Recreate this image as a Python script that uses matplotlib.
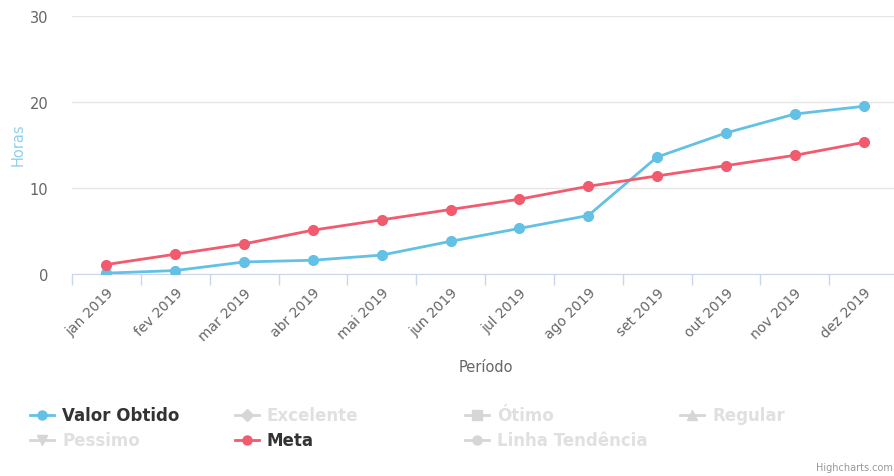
import matplotlib.pyplot as plt
from matplotlib.lines import Line2D

# dados
meses = ['jan 2019', 'fev 2019', 'mar 2019', 'abr 2019', 'mai 2019', 'jun 2019',
         'jul 2019', 'ago 2019', 'set 2019', 'out 2019', 'nov 2019', 'dez 2019']
valor_obtido = [0.1, 0.4, 1.4, 1.6, 2.2, 3.8, 5.3, 6.8, 13.6, 16.4, 18.6, 19.5]
meta = [1.1, 2.3, 3.5, 5.1, 6.3, 7.5, 8.7, 10.2, 11.4, 12.6, 13.8, 15.3]
yticks = [0, 10, 20, 30]

azul = '#62c1e5'
vermelho = '#f25a6e'
cinza = '#666666'

fig = plt.figure(figsize=(8.94, 4.77), dpi=100)
fig.patch.set_facecolor('white')
ax = fig.add_axes([72/894, 1 - 275/477, 826/894, 258/477])

x = list(range(len(meses)))
ax.plot(x, valor_obtido, color=azul, lw=2, marker='o', ms=7, zorder=3)
ax.plot(x, meta, color=vermelho, lw=2, marker='o', ms=7, zorder=4)

ax.set_xlim(-0.5, len(meses) - 0.5)
ax.set_ylim(0, 30)
ax.set_yticks(yticks)
ax.set_xticks(x)
ax.set_xticklabels(meses, rotation=45, ha='right', rotation_mode='anchor',
                   fontsize=10, color=cinza)
ax.set_xticks([i - 0.5 for i in x] + [len(meses) - 0.5], minor=True)
ax.tick_params(axis='x', which='major', length=0, pad=8)
ax.tick_params(axis='x', which='minor', length=8, color='#ccd6eb', width=1)
ax.tick_params(axis='y', length=0, labelsize=10.5, labelcolor=cinza, pad=17)
ax.grid(axis='y', color='#e6e6e6', lw=1)
ax.set_axisbelow(True)
for s in ['top', 'right', 'left']:
    ax.spines[s].set_visible(False)
ax.spines['bottom'].set_color('#ccd6eb')
ax.set_facecolor('none')

fig.text(18/894, 1 - 145/477, 'Horas', rotation=90, ha='center', va='center',
         color='#8fd0ec', fontsize=10.5)
fig.text(486/894, 1 - 368/477, 'Período', ha='center', va='center',
         fontsize=10.5, color=cinza)

# legenda (séries ocultas em cinza claro)
itens = [
    ('Valor Obtido', azul, 'o', 30, 416, True),
    ('Excelente', '#d6d6d6', 'D', 235, 416, False),
    ('Ótimo', '#d6d6d6', 's', 465, 416, False),
    ('Regular', '#d6d6d6', '^', 680, 416, False),
    ('Pessimo', '#d6d6d6', 'v', 30, 441, False),
    ('Meta', vermelho, 'o', 235, 441, True),
    ('Linha Tendência', '#d6d6d6', 'o', 465, 441, False),
]
for nome, cor, mk, px, py, ativo in itens:
    yy = 1 - py / 477
    fig.add_artist(Line2D([px / 894, (px + 24) / 894], [yy, yy], color=cor, lw=2,
                          transform=fig.transFigure))
    fig.add_artist(Line2D([(px + 12) / 894], [yy], color=cor, marker=mk, ms=6.5,
                          transform=fig.transFigure))
    fig.text((px + 32) / 894, yy, nome, va='center', ha='left', fontsize=12,
             fontweight='bold', color='#333333' if ativo else '#e0e0e0')

fig.text(893/894, 1 - 468/477, 'Highcharts.com', ha='right', va='center',
         fontsize=7, color='#999999')

fig.savefig('out.png', dpi=100)
